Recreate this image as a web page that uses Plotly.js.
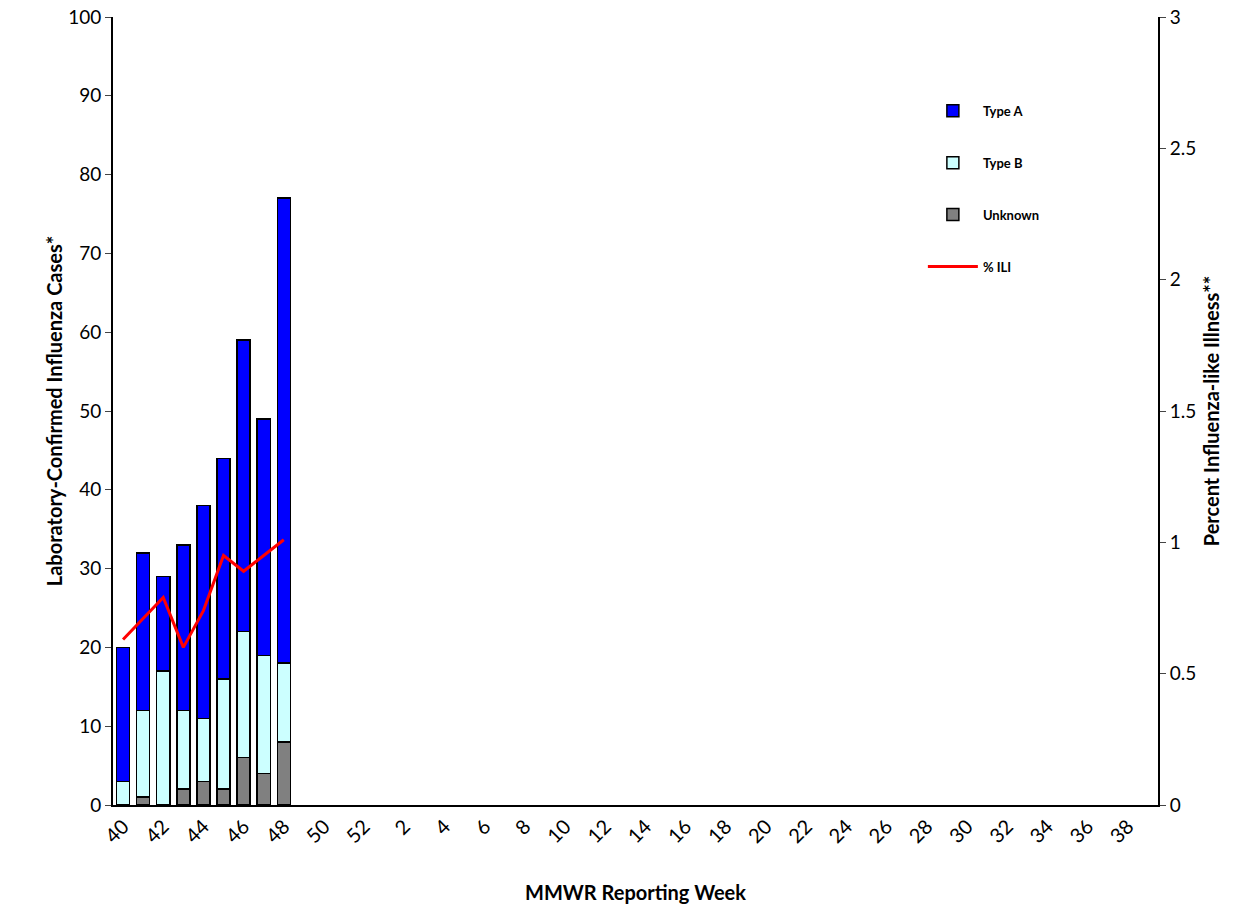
<!DOCTYPE html><html><head><script src="https://cdn.plot.ly/plotly-3.0.1.min.js"></script>
<style>body{margin:0}</style></head><body><div id="c" style="width:1250px;height:919px"></div><script>
const weeks=[];for(let w=40;w<=52;w++)weeks.push(String(w));for(let w=1;w<=39;w++)weeks.push(String(w));
const dataWeeks=['40','41','42','43','44','45','46','47','48'];
const unknown=[0,1,0,2,3,2,6,4,8];
const typeB=[3,11,17,10,8,14,16,15,10];
const typeA=[17,20,12,21,27,28,37,30,59];
const ili=[0.63,0.71,0.79,0.60,0.74,0.95,0.89,0.95,1.01];
const tickLabels=weeks.filter((w,i)=>i%2===0);
const f='Lato, "Open Sans", sans-serif';
const bar=(y,n,c,r)=>({type:'bar',x:dataWeeks,y:y,name:'<b>'+n+'</b>',legendgroup:n,legendrank:r,marker:{color:c,line:{color:'#000',width:1.5}},width:0.65});
const traces=[bar(unknown,'Unknown','#808080',3),bar(typeB,'Type B','#ccffff',2),bar(typeA,'Type A','#0000ff',1),
{type:'scatter',mode:'lines',x:dataWeeks,y:ili,yaxis:'y2',name:'<b>% ILI</b>',legendgroup:'ili',legendrank:4,line:{color:'#ff0000',width:3}}];
Plotly.newPlot('c',traces,{width:1250,height:919,margin:{l:113,r:92,t:17,b:114},barmode:'stack',
paper_bgcolor:'#fff',plot_bgcolor:'#fff',font:{family:f,size:19,color:'#000'},showlegend:true,
legend:{x:0.775,y:0.9,yanchor:'top',bgcolor:'rgba(0,0,0,0)',font:{size:13,family:f},tracegroupgap:32,itemwidth:50},
xaxis:{type:'category',categoryorder:'array',categoryarray:weeks,tickvals:tickLabels,ticktext:tickLabels,tickangle:-45,range:[-0.5,51.5],tickfont:{size:20},
showline:true,linecolor:'#000',linewidth:2,ticks:'',showgrid:false,title:{text:'<b>MMWR Reporting Week</b>',font:{size:20},standoff:40}},
yaxis:{range:[0,100],dtick:10,showline:true,linecolor:'#000',linewidth:2,ticks:'outside',ticklen:6,showgrid:false,zeroline:false,
title:{text:'<b>Laboratory-Confirmed Influenza Cases*</b>',font:{size:20}}},
yaxis2:{overlaying:'y',side:'right',range:[0,3],dtick:0.5,showline:true,linecolor:'#000',linewidth:2,ticks:'outside',ticklen:6,showgrid:false,zeroline:false,
title:{text:'<b>Percent Influenza-like Illness**</b>',font:{size:20}}}},{displayModeBar:false});
</script></body></html>
